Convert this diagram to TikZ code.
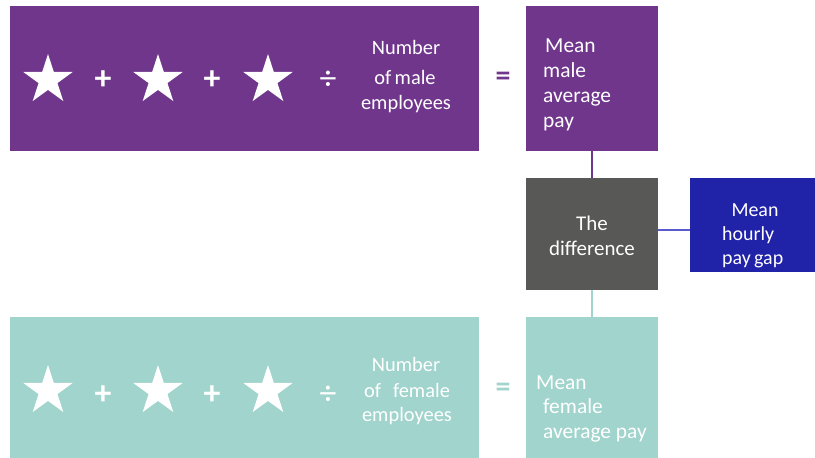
\documentclass[tikz,border=0pt]{standalone}
\usepackage{fontspec}
\setmainfont{Carlito}
\usetikzlibrary{shapes.geometric}
\definecolor{purp}{RGB}{112,54,140}
\definecolor{teal2}{RGB}{160,212,204}
\definecolor{grayd}{RGB}{88,88,86}
\definecolor{blued}{RGB}{32,34,168}
\definecolor{bluel}{RGB}{90,90,205}
\tikzset{
  box/.style={draw=none, anchor=north west, inner sep=0pt},
  wstar/.style={star, star points=5, star point ratio=2.618, fill=white, draw=none, minimum size=52bp, inner sep=0pt},
  lbl/.style={text=white, inner sep=0pt, anchor=base, font=\fontsize{20.5}{25}\selectfont},
  lbll/.style={text=white, inner sep=0pt, anchor=base west, font=\fontsize{21.5}{25}\selectfont},
  op/.style={text=white, inner sep=0pt, font=\fontsize{34}{34}\selectfont},
  conn/.style={line width=2bp}
}
\begin{document}
\begin{tikzpicture}[x=1bp,y=-1bp]
\useasboundingbox (0,0) rectangle (815,458);
% boxes
\node[box, fill=purp, minimum width=469bp, minimum height=145bp] (mbar) at (10,6) {};
\node[box, fill=purp, minimum width=132bp, minimum height=145bp] (mmean) at (526,6) {};
\node[box, fill=grayd, minimum width=132bp, minimum height=112bp] (diff) at (526,178) {};
\node[box, fill=blued, minimum width=125bp, minimum height=94bp] (gap) at (690,178) {};
\node[box, fill=teal2, minimum width=469bp, minimum height=141bp] (fbar) at (10,317) {};
\node[box, fill=teal2, minimum width=132bp, minimum height=141bp] (fmean) at (526,317) {};
% connectors
\draw[conn, purp] (mmean.south) -- (diff.north);
\draw[conn, teal2] (diff.south) -- (fmean.north);
\draw[conn, bluel] (diff.east |- 0,230) coordinate (c1) -- (gap.west |- c1);
% top row
\node[wstar] (ms1) at (48,80) {};
\node[wstar] (ms2) at (158,80) {};
\node[wstar] (ms3) at (268,80) {};
\node[op] (mp1) at (103,80) {\textbf{+}};
\node[op] (mp2) at (212,80) {\textbf{+}};
\node[op] (md) at (328,80) {÷};
\node[lbl] (mn1) at (406,55) {Number};
\node[lbl] (mn2) at (405,85) {of\,male};
\node[lbl] (mn3) at (406,110) {employees};
\node[op, text=purp, font=\fontsize{30}{30}\selectfont] (meq) at (503,79) {\textbf{=}};
\node[lbll] (mm1) at (545,53) {Mean};
\node[lbll] (mm2) at (543,78) {male};
\node[lbll] (mm3) at (543,103) {average};
\node[lbll] (mm4) at (543,128) {pay};
% middle
\node[lbl, font=\fontsize{21}{25}\selectfont] (d1) at (592,231) {The};
\node[lbl, font=\fontsize{21}{25}\selectfont] (d2) at (592,256) {difference};
\node[lbl, font=\fontsize{20}{25}\selectfont] (g1) at (755,217) {Mean};
\node[lbl, anchor=base west, font=\fontsize{20}{25}\selectfont] (g2) at (722,241) {hourly};
\node[lbl, anchor=base west, font=\fontsize{20}{25}\selectfont] (g3) at (722,265) {pay\,gap};
% bottom row
\node[wstar] (fs1) at (48,391) {};
\node[wstar] (fs2) at (158,391) {};
\node[wstar] (fs3) at (268,391) {};
\node[op] (fp1) at (103,395) {\textbf{+}};
\node[op] (fp2) at (212,395) {\textbf{+}};
\node[op] (fd) at (328,395) {÷};
\node[lbl] (fn1) at (406,372) {Number};
\node[lbl] (fn2) at (407,397) {of\hspace{12bp}female};
\node[lbl] (fn3) at (407,421) {employees};
\node[op, text=teal2, font=\fontsize{30}{30}\selectfont] (feq) at (503,390) {\textbf{=}};
\node[lbll] (fm1) at (536,389) {Mean};
\node[lbll] (fm2) at (543,413) {female};
\node[lbll] (fm3) at (543,438) {average pay};
\end{tikzpicture}
\end{document}
